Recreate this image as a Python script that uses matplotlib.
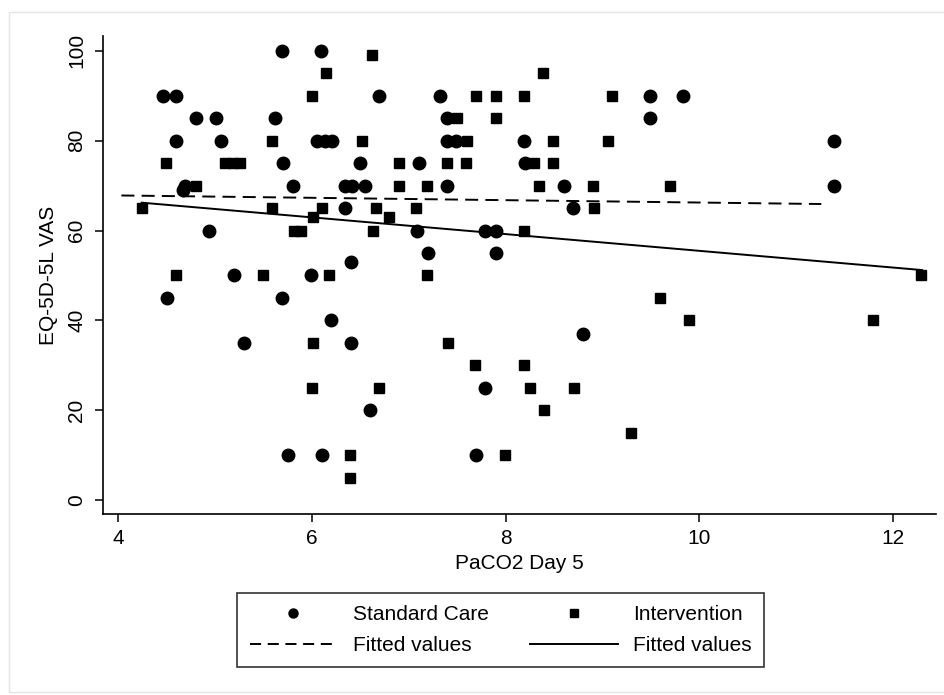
import matplotlib
matplotlib.use("Agg")
import matplotlib.pyplot as plt
import matplotlib.patches as mpatches
from matplotlib.lines import Line2D

plt.rcParams['font.family'] = ['Liberation Sans', 'DejaVu Sans']

# Standard Care (circles): PaCO2 day 5 vs EQ-5D-5L VAS
sc_x = [5.69, 6.09, 4.46, 4.59, 6.69, 4.80, 5.01, 5.62, 4.59, 5.06,
        6.05, 6.13, 6.21, 5.70, 6.49, 4.69, 4.67, 5.80, 6.34, 6.41,
        6.55, 6.34, 4.93, 6.40, 7.32, 9.49, 9.83, 7.39, 9.49, 7.39,
        7.49, 8.19, 11.39, 7.10, 8.20, 7.39, 8.60, 11.39, 8.69, 7.08,
        7.79, 7.90, 7.20, 7.90, 5.19, 5.99, 4.50, 5.69, 6.20, 5.30,
        6.40, 6.60, 5.75, 6.10, 8.80, 7.79, 7.69]
sc_y = [100, 100, 90, 90, 90, 85, 85, 85, 80, 80,
        80, 80, 80, 75, 75, 70, 69, 70, 70, 70,
        70, 65, 60, 53, 90, 90, 90, 85, 85, 80,
        80, 80, 80, 75, 75, 70, 70, 70, 65, 60,
        60, 60, 55, 55, 50, 50, 45, 45, 40, 35,
        35, 20, 10, 10, 37, 25, 10]

# Intervention (squares)
iv_x = [4.24, 5.59, 6.52, 4.49, 5.10, 5.18, 5.26, 4.80, 5.59, 6.10,
        6.66, 6.01, 5.81, 5.89, 6.63, 6.62, 8.39, 6.14, 6.00, 7.69,
        7.90, 8.19, 9.10, 7.50, 7.90, 7.60, 8.49, 9.06, 6.90, 7.39,
        7.59, 8.29, 8.49, 6.90, 7.19, 8.34, 8.90, 9.70, 6.79, 7.07,
        8.91, 8.19, 4.59, 5.49, 6.17, 6.01, 6.00, 6.69, 6.39, 6.39,
        7.19, 7.40, 7.68, 8.19, 8.25, 8.71, 8.40, 9.29, 7.99, 12.29,
        9.59, 9.89, 11.79]
iv_y = [65, 80, 80, 75, 75, 75, 75, 70, 65, 65,
        65, 63, 60, 60, 60, 99, 95, 95, 90, 90,
        90, 90, 90, 85, 85, 80, 80, 80, 75, 75,
        75, 75, 75, 70, 70, 70, 70, 70, 63, 65,
        65, 60, 50, 50, 50, 35, 25, 25, 10, 5,
        50, 35, 30, 30, 25, 25, 20, 15, 10, 50,
        45, 40, 40]

# fitted lines (end points)
fit_sc_x = [4.03, 11.26]
fit_sc_y = [67.8, 65.9]
fit_iv_x = [4.24, 12.30]
fit_iv_y = [66.2, 51.2]

x_ticks = [4, 6, 8, 10, 12]
y_ticks = [0, 20, 40, 60, 80, 100]

W, H = 944, 695
fig = plt.figure(figsize=(W / 100, H / 100), dpi=100)
fig.patch.set_facecolor("white")

# faint outer frame of the graph region
frame = mpatches.Rectangle((9 / W, 1 - 692 / H), 1.2, (692 - 12) / H,
                           transform=fig.transFigure, fill=False,
                           edgecolor="#e4e4e4", linewidth=1.0)
fig.patches.append(frame)

ax = fig.add_axes([103 / W, 1 - 514 / H, (936 - 103) / W, (514 - 36) / H])
ax.set_xlim(3.84, 12.445)
ax.set_ylim(-3.1, 103.3)

ax.plot(sc_x, sc_y, linestyle="none", marker="o", markersize=9.0,
        color="black", zorder=3)
ax.plot(iv_x, iv_y, linestyle="none", marker="s", markersize=7.3,
        color="black", zorder=3)
ax.plot(fit_sc_x, fit_sc_y, color="black", linewidth=1.4,
        dashes=(6.7, 3.7), zorder=2)
ax.plot(fit_iv_x, fit_iv_y, color="black", linewidth=1.4, zorder=2)

for s in ["top", "right"]:
    ax.spines[s].set_visible(False)
for s in ["left", "bottom"]:
    ax.spines[s].set_linewidth(1.2)

ax.set_xticks(x_ticks)
ax.set_yticks(y_ticks)
ax.tick_params(axis="both", direction="out", length=6, width=1.1,
               labelsize=15, colors="black")
ax.tick_params(axis="x", pad=5)
ax.tick_params(axis="y", pad=6)
for lab in ax.get_yticklabels():
    lab.set_rotation(90)
    lab.set_va("center")

ax.set_xlabel("PaCO2 Day 5", fontsize=15, labelpad=4)
ax.set_ylabel("EQ-5D-5L VAS", fontsize=15, labelpad=7)

handles = [
    Line2D([], [], linestyle="none", marker="o", markersize=6.5, color="black"),
    Line2D([], [], color="black", linewidth=1.4, dashes=(5.7, 3.4)),
    Line2D([], [], linestyle="none", marker="s", markersize=5.5, color="black"),
    Line2D([], [], color="black", linewidth=1.4),
]
labels = ["Standard Care", "Fitted values", "Intervention", "Fitted values"]
leg = fig.legend(handles, labels, ncol=2, loc="upper left",
                 bbox_to_anchor=(237 / W, 1 - 593 / H), borderaxespad=0,
                 fontsize=15, frameon=True, fancybox=False,
                 handlelength=4.2, handletextpad=0.75, columnspacing=2.0,
                 labelspacing=0.55, borderpad=0.6)
leg.get_frame().set_edgecolor("black")
leg.get_frame().set_linewidth(1.2)

fig.savefig("out.png", dpi=100, facecolor="white")
